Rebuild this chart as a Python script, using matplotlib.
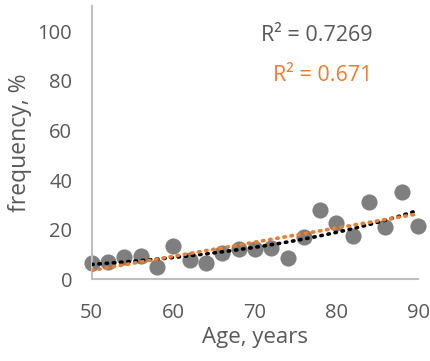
import numpy as np
import matplotlib
matplotlib.use("Agg")
import matplotlib.pyplot as plt

age = [50, 52, 54, 56, 58, 60, 62, 64, 66, 68, 70,
       72, 74, 76, 78, 80, 82, 84, 86, 88, 90]
freq = [6.7, 7.1, 9.1, 9.3, 4.8, 13.3, 7.8, 6.7, 10.6, 12.2, 12.3,
        12.5, 8.6, 16.9, 27.9, 22.7, 17.5, 31.0, 21.0, 35.3, 21.4]
r2_black = "R² = 0.7269"
r2_orange = "R² = 0.671"

plt.rcParams["font.family"] = ["Open Sans", "DejaVu Sans"]
grey_text = "#595959"
orange = "#ed7d31"

fig = plt.figure(figsize=(4.31, 3.61), dpi=100)
ax = fig.add_axes([0.2128, 0.2263, 0.7572, 0.7557])

x = np.array(age, dtype=float)
y = np.array(freq, dtype=float)
xs = np.linspace(50, 90, 200)

# exponential trend (black) and linear trend (orange)
b, a = np.polyfit(x, np.log(y), 1)
ax.plot(xs, np.exp(a) * np.exp(b * xs), color="black", lw=2.6,
        linestyle=(0, (0.4, 1.6)), dash_capstyle="round", zorder=3)
m, c = np.polyfit(x, y, 1)
ax.plot(xs, m * xs + c, color=orange, lw=2.6,
        linestyle=(0, (0.4, 1.6)), dash_capstyle="round", zorder=3)

ax.scatter(x, y, s=135, color="#7f7f7f", zorder=2, clip_on=False, linewidths=0)

ax.set_xlim(50, 90)
ax.set_ylim(0, 110)
ax.set_xticks([50, 60, 70, 80, 90])
ax.set_yticks([0, 20, 40, 60, 80, 100])
ax.tick_params(length=0, labelsize=14.5, labelcolor=grey_text)
ax.tick_params(axis="y", pad=14)
ax.tick_params(axis="x", pad=17)
for side in ["top", "right"]:
    ax.spines[side].set_visible(False)
for side in ["left", "bottom"]:
    ax.spines[side].set_color("#bfbfbf")
    ax.spines[side].set_linewidth(1.5)

ax.set_xlabel("Age, years", fontsize=16, color=grey_text, labelpad=3)
ax.set_ylabel("frequency, %", fontsize=16.5, color=grey_text, labelpad=4)

ax.text(0.52, 0.893, r2_black, transform=ax.transAxes, fontsize=15.5,
        color=grey_text, va="center")
ax.text(0.555, 0.746, r2_orange, transform=ax.transAxes, fontsize=15.5,
        color=orange, va="center")

fig.savefig("out.png", dpi=100)
